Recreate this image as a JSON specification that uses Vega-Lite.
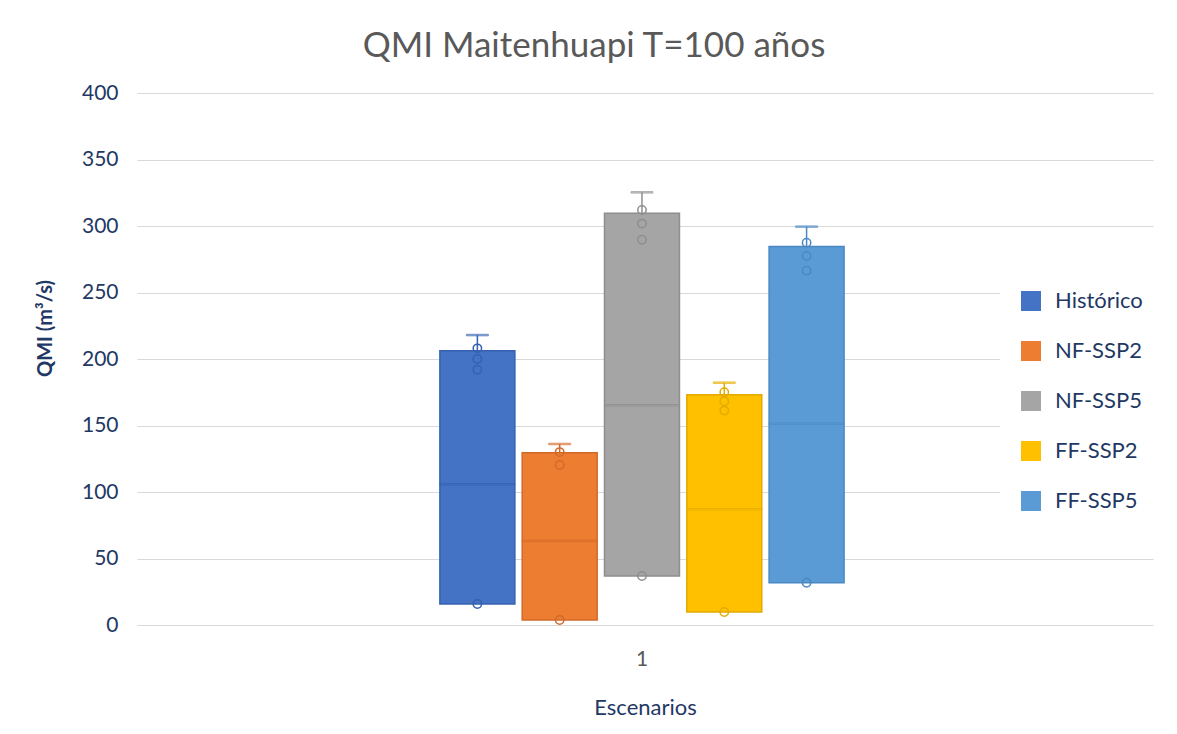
{
  "$schema": "https://vega.github.io/schema/vega-lite/v6.json",
  "autosize": {"type": "none"},
  "width": 1016,
  "height": 532,
  "padding": {"left": 137, "top": 93, "right": 24, "bottom": 109},
  "background": "white",
  "title": {
    "text": "QMI Maitenhuapi T=100 años",
    "font": "Lato",
    "fontSize": 35,
    "fontWeight": "normal",
    "color": "#595959",
    "anchor": "middle",
    "frame": "group",
    "baseline": "alphabetic",
    "offset": 36,
    "dx": -51,
    "dy": 46
  },
  "config": {
    "view": {"stroke": null},
    "font": "Lato"
  },
  "datasets": {
    "boxes": [
      {"cat": "1", "scen": "Histórico", "q1": 15.8, "median": 105.8, "q3": 206.2, "max": 218.0},
      {"cat": "1", "scen": "NF-SSP2", "q1": 3.8, "median": 63.2, "q3": 129.6, "max": 136.1},
      {"cat": "1", "scen": "NF-SSP5", "q1": 36.8, "median": 165.2, "q3": 309.5, "max": 325.3},
      {"cat": "1", "scen": "FF-SSP2", "q1": 9.8, "median": 87.0, "q3": 173.2, "max": 182.2},
      {"cat": "1", "scen": "FF-SSP5", "q1": 31.8, "median": 151.4, "q3": 284.5, "max": 299.5}
    ],
    "points": [
      {"cat": "1", "scen": "Histórico", "v": 208.0},
      {"cat": "1", "scen": "Histórico", "v": 200.0},
      {"cat": "1", "scen": "Histórico", "v": 192.0},
      {"cat": "1", "scen": "Histórico", "v": 15.8},
      {"cat": "1", "scen": "NF-SSP2", "v": 130.0},
      {"cat": "1", "scen": "NF-SSP2", "v": 120.3},
      {"cat": "1", "scen": "NF-SSP2", "v": 3.8},
      {"cat": "1", "scen": "NF-SSP5", "v": 312.0},
      {"cat": "1", "scen": "NF-SSP5", "v": 301.8},
      {"cat": "1", "scen": "NF-SSP5", "v": 289.7},
      {"cat": "1", "scen": "NF-SSP5", "v": 36.8},
      {"cat": "1", "scen": "FF-SSP2", "v": 175.0},
      {"cat": "1", "scen": "FF-SSP2", "v": 168.2},
      {"cat": "1", "scen": "FF-SSP2", "v": 161.2},
      {"cat": "1", "scen": "FF-SSP2", "v": 9.8},
      {"cat": "1", "scen": "FF-SSP5", "v": 287.5},
      {"cat": "1", "scen": "FF-SSP5", "v": 277.4},
      {"cat": "1", "scen": "FF-SSP5", "v": 266.4},
      {"cat": "1", "scen": "FF-SSP5", "v": 31.8}
    ]
  },
  "encoding": {
    "x": {
      "field": "cat",
      "type": "nominal",
      "scale": {"paddingInner": 0, "paddingOuter": 0.7345, "align": 0.495},
      "axis": {
        "title": "Escenarios",
        "labelAngle": 0,
        "labelFontSize": 21,
        "labelColor": "#595959",
        "labelPadding": 23,
        "ticks": false,
        "domain": false,
        "titleFontSize": 22,
        "titleFontWeight": "normal",
        "titleColor": "#1F3864",
        "titleY": 82,
        "titleBaseline": "middle"
      }
    },
    "xOffset": {
      "field": "scen",
      "type": "nominal",
      "scale": {
        "domain": ["Histórico", "NF-SSP2", "NF-SSP5", "FF-SSP2", "FF-SSP5"],
        "paddingInner": 0.089,
        "paddingOuter": 0.0445
      }
    }
  },
  "layer": [
    {
      "data": {"name": "boxes"},
      "mark": {"type": "bar", "strokeWidth": 1.5},
      "encoding": {
        "y": {
          "field": "q1",
          "type": "quantitative",
          "scale": {"domain": [0, 400], "nice": false},
          "axis": {
            "values": [0, 50, 100, 150, 200, 250, 300, 350, 400],
            "labelFontSize": 21,
            "labelColor": "#1F3864",
            "labelPadding": 19,
            "ticks": false,
            "domain": false,
            "gridColor": "#D9D9D9",
            "gridWidth": 1.2,
            "title": "QMI (m³/s)",
            "titleFontSize": 20,
            "titleFontWeight": "bold",
            "titleColor": "#1F3864",
            "titleX": -92,
            "titleY": 235,
            "titleAngle": -90,
            "titleAlign": "center",
            "titleBaseline": "middle"
          }
        },
        "y2": {"field": "q3"},
        "fill": {
          "field": "scen",
          "type": "nominal",
          "scale": {
            "domain": ["Histórico", "NF-SSP2", "NF-SSP5", "FF-SSP2", "FF-SSP5"],
            "range": ["#4472C4", "#ED7D31", "#A5A5A5", "#FFC000", "#5B9BD5"]
          },
          "legend": {
            "title": null,
            "orient": "none",
            "legendX": 863,
            "legendY": 177,
            "symbolType": "square",
            "symbolSize": 400,
            "symbolStrokeWidth": 0,
            "symbolOpacity": 1,
            "labelFontSize": 22,
            "labelColor": "#1F3864",
            "labelFont": "Lato",
            "labelOffset": 13,
            "rowPadding": 28,
            "padding": 20,
            "fillColor": "white",
            "strokeColor": null
          }
        },
        "stroke": {
          "field": "scen",
          "type": "nominal",
          "scale": {
            "domain": ["Histórico", "NF-SSP2", "NF-SSP5", "FF-SSP2", "FF-SSP5"],
            "range": ["#3461B0", "#D2692A", "#8E8E8E", "#E3AA00", "#4A88C4"]
          },
          "legend": null
        }
      }
    },
    {
      "data": {"name": "boxes"},
      "mark": {"type": "tick", "size": 75, "thickness": 1.5},
      "encoding": {
        "y": {"field": "median", "type": "quantitative"},
        "stroke": {"field": "scen", "type": "nominal", "legend": null},
        "fill": {"field": "scen", "type": "nominal", "legend": null}
      }
    },
    {
      "data": {"name": "boxes"},
      "mark": {"type": "rule", "strokeWidth": 1.5},
      "encoding": {
        "y": {"field": "q3", "type": "quantitative"},
        "y2": {"field": "max"},
        "stroke": {"field": "scen", "type": "nominal", "legend": null}
      }
    },
    {
      "data": {"name": "boxes"},
      "mark": {"type": "tick", "size": 22, "thickness": 1.5},
      "encoding": {
        "y": {"field": "max", "type": "quantitative"},
        "stroke": {"field": "scen", "type": "nominal", "legend": null},
        "fill": {"field": "scen", "type": "nominal", "legend": null}
      }
    },
    {
      "data": {"name": "points"},
      "mark": {"type": "point", "filled": false, "size": 70, "strokeWidth": 1.5, "opacity": 1},
      "encoding": {
        "y": {"field": "v", "type": "quantitative"},
        "stroke": {"field": "scen", "type": "nominal", "legend": null}
      }
    }
  ]
}
